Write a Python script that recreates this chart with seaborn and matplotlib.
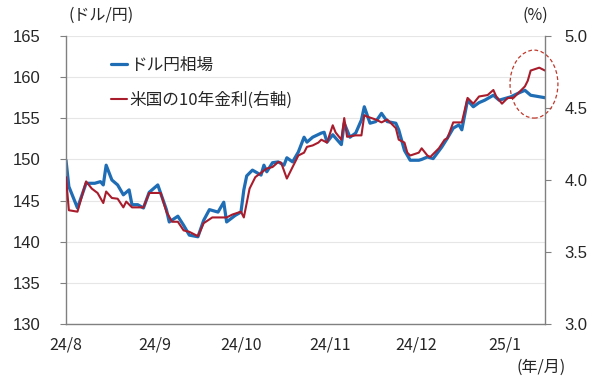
import pandas as pd
import matplotlib.pyplot as plt
import matplotlib.dates as mdates
from matplotlib.patches import Ellipse
import seaborn as sns

# ------------------------------- data -------------------------------
usdjpy_dates = [
    "2024-08-01", "2024-08-02", "2024-08-05", "2024-08-08", "2024-08-11", "2024-08-13",
    "2024-08-14", "2024-08-15", "2024-08-17", "2024-08-19", "2024-08-21", "2024-08-23",
    "2024-08-24", "2024-08-26", "2024-08-28", "2024-08-30", "2024-09-02", "2024-09-05",
    "2024-09-06", "2024-09-09", "2024-09-11", "2024-09-13", "2024-09-16", "2024-09-18",
    "2024-09-20", "2024-09-23", "2024-09-25", "2024-09-26", "2024-09-29", "2024-10-01",
    "2024-10-02", "2024-10-03", "2024-10-05", "2024-10-08", "2024-10-09", "2024-10-10",
    "2024-10-12", "2024-10-14", "2024-10-16", "2024-10-17", "2024-10-19", "2024-10-21",
    "2024-10-23", "2024-10-24", "2024-10-26", "2024-10-29", "2024-10-30", "2024-10-31",
    "2024-11-02", "2024-11-03", "2024-11-05", "2024-11-06", "2024-11-08", "2024-11-10",
    "2024-11-12", "2024-11-13", "2024-11-15", "2024-11-17", "2024-11-19", "2024-11-21",
    "2024-11-24", "2024-11-25", "2024-11-27", "2024-11-29", "2024-12-02", "2024-12-03",
    "2024-12-05", "2024-12-07", "2024-12-10", "2024-12-12", "2024-12-14", "2024-12-16",
    "2024-12-17", "2024-12-19", "2024-12-21", "2024-12-23", "2024-12-25", "2024-12-27",
    "2024-12-28", "2024-12-30", "2025-01-02", "2025-01-03", "2025-01-06", "2025-01-08",
    "2025-01-10", "2025-01-15",
]
usdjpy = [
    149.9, 146.7, 144.1, 147.1, 147.1, 147.3,
    146.9, 149.3, 147.5, 146.9, 145.7, 146.3,
    144.5, 144.5, 144.1, 146.0, 146.9, 143.9,
    142.4, 143.1, 142.0, 140.8, 140.6, 142.6,
    143.9, 143.6, 144.8, 142.4, 143.2, 143.6,
    146.3, 148.0, 148.7, 148.1, 149.3, 148.5,
    149.6, 149.7, 149.3, 150.2, 149.7, 150.9,
    152.7, 152.1, 152.7, 153.2, 153.3, 152.1,
    153.0, 152.6, 151.8, 154.4, 152.7, 153.2,
    154.8, 156.4, 154.4, 154.6, 155.6, 154.6,
    154.4, 153.6, 151.1, 149.9, 149.9, 150.0,
    150.3, 150.1, 151.5, 152.6, 153.8, 154.2,
    153.6, 157.2, 156.4, 156.9, 157.2, 157.6,
    157.8, 157.2, 157.5, 157.6, 158.1, 158.4,
    157.8, 157.5,
]

us10y_dates = [
    "2024-08-01", "2024-08-02", "2024-08-05", "2024-08-08", "2024-08-10", "2024-08-12",
    "2024-08-14", "2024-08-15", "2024-08-17", "2024-08-19", "2024-08-21", "2024-08-22",
    "2024-08-24", "2024-08-28", "2024-08-30", "2024-09-03", "2024-09-05", "2024-09-07",
    "2024-09-09", "2024-09-11", "2024-09-13", "2024-09-16", "2024-09-18", "2024-09-21",
    "2024-09-24", "2024-09-26", "2024-09-28", "2024-10-01", "2024-10-02", "2024-10-03",
    "2024-10-04", "2024-10-06", "2024-10-08", "2024-10-10", "2024-10-12", "2024-10-14",
    "2024-10-15", "2024-10-17", "2024-10-19", "2024-10-21", "2024-10-23", "2024-10-24",
    "2024-10-26", "2024-10-28", "2024-10-29", "2024-10-31", "2024-11-02", "2024-11-03",
    "2024-11-05", "2024-11-06", "2024-11-07", "2024-11-10", "2024-11-12", "2024-11-13",
    "2024-11-14", "2024-11-17", "2024-11-19", "2024-11-21", "2024-11-22", "2024-11-24",
    "2024-11-25", "2024-11-27", "2024-11-28", "2024-11-29", "2024-12-02", "2024-12-03",
    "2024-12-05", "2024-12-06", "2024-12-09", "2024-12-11", "2024-12-12", "2024-12-14",
    "2024-12-17", "2024-12-19", "2024-12-21", "2024-12-23", "2024-12-26", "2024-12-28",
    "2024-12-29", "2024-12-31", "2025-01-02", "2025-01-04", "2025-01-06", "2025-01-08",
    "2025-01-09", "2025-01-10", "2025-01-13", "2025-01-15",
]
us10y = [
    4.02, 3.79, 3.78, 3.99, 3.94, 3.91,
    3.84, 3.92, 3.875, 3.87, 3.81, 3.85,
    3.81, 3.81, 3.91, 3.91, 3.78, 3.71,
    3.71, 3.65, 3.64, 3.61, 3.70, 3.74,
    3.74, 3.74, 3.76, 3.78, 3.74, 3.84,
    3.94, 4.02, 4.05, 4.08, 4.09, 4.125,
    4.12, 4.01, 4.09, 4.17, 4.19, 4.23,
    4.24, 4.26, 4.28, 4.26, 4.38, 4.33,
    4.28, 4.43, 4.30, 4.31, 4.31, 4.45,
    4.44, 4.42, 4.40, 4.42, 4.40, 4.36,
    4.28, 4.26, 4.19, 4.17, 4.19, 4.22,
    4.17, 4.16, 4.22, 4.28, 4.29, 4.40,
    4.40, 4.57, 4.53, 4.58, 4.59, 4.625,
    4.58, 4.53, 4.57, 4.57, 4.61, 4.65,
    4.69, 4.76, 4.78, 4.76,
]

month_ticks = ["2024-08-01", "2024-09-01", "2024-10-01", "2024-11-01", "2024-12-01", "2025-01-01"]
month_labels = ["24/8", "24/9", "24/10", "24/11", "24/12", "25/1"]

fx_df = pd.DataFrame({"date": pd.to_datetime(usdjpy_dates), "value": usdjpy})
rate_df = pd.DataFrame({"date": pd.to_datetime(us10y_dates), "value": us10y})

# ------------------------------- plot -------------------------------
sns.set_style("white")
plt.rcParams["font.family"] = ["Noto Sans CJK JP", "DejaVu Sans"]

blue = "#1f6db5"
red = "#a81c2c"
gray = "#808080"

fig = plt.figure(figsize=(6, 3.87), dpi=100)
ax = fig.add_axes([66 / 600, 1 - 324 / 387, 479 / 600, 288 / 387])
ax2 = ax.twinx()

sns.lineplot(data=fx_df, x="date", y="value", ax=ax, color=blue, linewidth=2.3, label="ドル円相場", legend=False)
sns.lineplot(data=rate_df, x="date", y="value", ax=ax2, color=red, linewidth=1.5, label="米国の10年金利(右軸)", legend=False)

ax.set_xlim(pd.Timestamp("2024-08-01"), pd.Timestamp("2025-01-15"))
ax.set_ylim(130, 165)
ax2.set_ylim(3.0, 5.0)
ax.set_yticks(range(130, 166, 5))
ax2.set_yticks([3.0, 3.5, 4.0, 4.5, 5.0])
ax2.set_yticklabels(["3.0", "3.5", "4.0", "4.5", "5.0"])
ax.set_xticks(pd.to_datetime(month_ticks))
ax.set_xticklabels(month_labels)

ax.set_xlabel("")
ax.set_ylabel("")
ax2.set_ylabel("")

ax.grid(axis="y", color="#e6e6e6", linewidth=0.8)
ax.set_axisbelow(True)

for a in (ax, ax2):
    for s in a.spines.values():
        s.set_visible(False)
ax.spines["left"].set_visible(True)
ax.spines["bottom"].set_visible(True)
ax2.spines["right"].set_visible(True)
for s in (ax.spines["left"], ax.spines["bottom"], ax2.spines["right"]):
    s.set_color(gray)
    s.set_linewidth(1.0)

ax.tick_params(axis="y", length=4, color=gray, labelsize=12, pad=14)
ax.tick_params(axis="x", length=4, color=gray, labelsize=11.5, pad=5)
ax2.tick_params(axis="y", length=4, color=gray, labelsize=12, pad=10)
for lbl in ax.get_yticklabels() + ax2.get_yticklabels():
    lbl.set_family(["Liberation Sans", "DejaVu Sans"])

fig.text(68 / 600, 1 - 15 / 387, "(ドル/円)", fontsize=11.5, va="center", ha="left")
fig.text(548 / 600, 1 - 15 / 387, "(%)", fontsize=11.5, va="center", ha="right")
fig.text(566 / 600, 1 - 367 / 387, "(年/月)", fontsize=11.5, va="center", ha="right")

h1, l1 = ax.get_legend_handles_labels()
h2, l2 = ax2.get_legend_handles_labels()
ax2.legend(h1 + h2, l1 + l2, loc="upper left", bbox_to_anchor=(104 / 600, 1 - 50 / 387),
           bbox_transform=fig.transFigure, frameon=False, fontsize=12,
           handlelength=1.0, handletextpad=0.15, labelspacing=1.1, borderaxespad=0)

circle = Ellipse((0.977, 0.833), 0.10, 0.236, transform=ax2.transAxes, fill=False,
                 edgecolor="#c0392b", linestyle=(0, (3, 2)), linewidth=0.9, clip_on=False)
ax2.add_patch(circle)

fig.savefig("out.png", dpi=100)
